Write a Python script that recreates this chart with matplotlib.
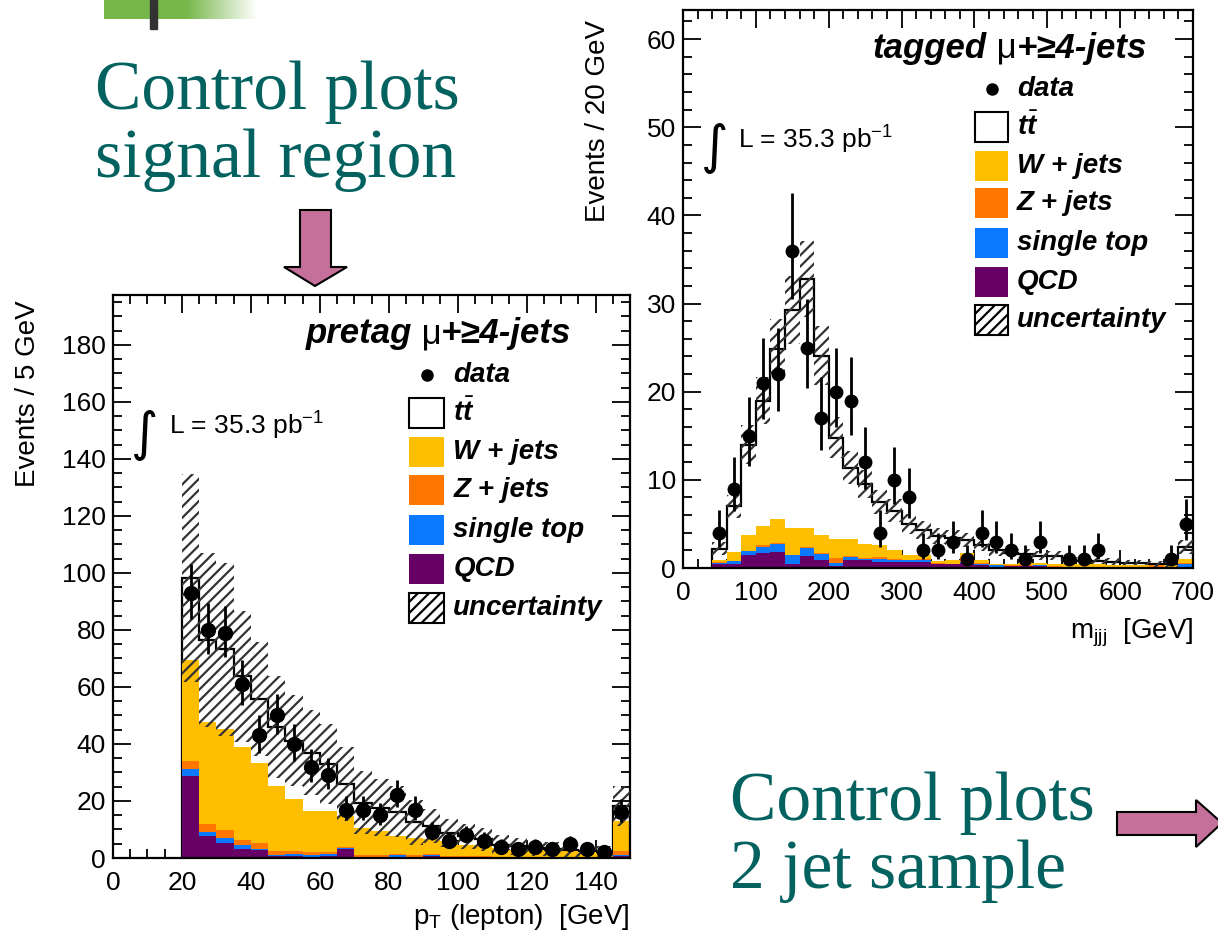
import numpy as np
import matplotlib
matplotlib.use("Agg")
import matplotlib.pyplot as plt
from matplotlib.patches import Rectangle, Polygon
from matplotlib.ticker import MultipleLocator

plt.rcParams['font.family'] = ['Liberation Sans', 'DejaVu Sans']
plt.rcParams['mathtext.fontset'] = 'custom'
plt.rcParams['mathtext.rm'] = 'Liberation Sans'
plt.rcParams['mathtext.it'] = 'Liberation Sans:italic:bold'
plt.rcParams['mathtext.bf'] = 'Liberation Sans:bold'
plt.rcParams['hatch.linewidth'] = 1.6
plt.rcParams['hatch.color'] = '#333333'

# ---- pretag: pT(lepton), 5 GeV bins 20-150 (last bin holds overflow)
pt_edges = np.arange(20, 151, 5)
pt_data = [93, 80, 79, 61, 43, 50, 40, 32, 29, 17, 17, 15, 22, 17, 9, 6, 8, 6, 4, 3, 4, 3, 5, 3, 2, 16]
pt_qcd = [28.8, 7.6, 5.3, 3.3, 2.9, 0.6, 0.6, 0.4, 0.8, 3.3, 0.3, 0.2, 0.2, 0.3, 0.8, 0.2, 0.2, 0.1, 0.1, 0.1, 0.1, 0.1, 0.1, 0.1, 0.1, 0.6]
pt_stop = [2.4, 1.6, 1.8, 1.4, 0.4, 0.6, 0.8, 0.6, 0.6, 0.2, 0.2, 0.2, 0.8, 0.2, 0.2, 0.2, 0.2, 0.2, 0.1, 0.1, 0.1, 0.1, 0.1, 0.1, 0.1, 0.6]
pt_zjets = [2.9, 2.8, 2.7, 1.5, 2.0, 1.2, 1.0, 1.1, 0.7, 0.3, 0.5, 0.5, 0.3, 0.4, 0.4, 0.4, 0.3, 0.3, 0.2, 0.2, 0.2, 0.1, 0.1, 0.1, 0.1, 1.4]
pt_wjets = [35.3, 35.6, 35.5, 32.8, 28.2, 22.9, 18.4, 14.4, 14.4, 10.9, 9.6, 8.5, 6.3, 6.1, 5.1, 5.1, 4.0, 3.5, 3.1, 2.5, 2.5, 2.3, 2.1, 1.8, 1.5, 10.3]
pt_ttbar = [28.8, 28.9, 27.9, 24.8, 22.4, 20.6, 20.4, 20.5, 16.5, 11.2, 8.8, 8.2, 8.7, 5.5, 4.7, 2.9, 2.9, 2.4, 1.2, 1.2, 0.6, 0.6, 0.4, 0.4, 0.4, 5.3]
pt_unc = [36.5, 30.5, 30.3, 23, 20, 18, 16, 15, 14, 13, 11, 10, 9, 8, 6, 5, 4.5, 4, 3.5, 3, 2.8, 2.5, 2.3, 2.1, 2.0, 7]

# ---- tagged: m_jjj, 20 GeV bins 40-700 (last bin holds overflow)
m_edges = np.arange(40, 701, 20)
m_data = [4, 9, 15, 21, 22, 36, 25, 17, 20, 19, 12, 4, 10, 8, 2, 2, 3, 1, 4, 3, 2, 1, 3, 0, 1, 1, 2, 0, 0, 0, 0, 1, 5]
m_qcd = [0.4, 0.5, 1.43, 1.7, 1.8, 0.5, 1.36, 0.94, 0.2, 0.94, 0.9, 0.7, 0.7, 0.7, 0.7, 0.4, 0.4, 0.6, 0.3, 0.15, 0.2, 0.2, 0.2, 0.1, 0.05, 0.05, 0.05, 0.05, 0.05, 0.05, 0.05, 0.05, 0.15]
m_stop = [0.2, 0.25, 0.47, 0.7, 0.95, 0.93, 0.9, 0.66, 0.4, 0.3, 0.15, 0.3, 0.2, 0.2, 0.25, 0.1, 0.05, 0.1, 0.2, 0.15, 0.05, 0.05, 0.1, 0.05, 0.05, 0.05, 0.05, 0.05, 0.05, 0.05, 0.05, 0.05, 0.3]
m_zjets = [0.05, 0.05, 0.05, 0.2, 0.1, 0.05, 0.1, 0.05, 0.5, 0.1, 0.1, 0.3, 0.1, 0.05, 0.05, 0.05, 0.05, 0.5, 0.05, 0.05, 0.05, 0.05, 0.05, 0.05, 0.05, 0.05, 0.05, 0.05, 0.05, 0.05, 0.25, 0.05, 0.1]
m_wjets = [0.3, 1.0, 1.8, 2.2, 2.75, 3.1, 2.2, 2.15, 2.2, 1.95, 1.6, 1.3, 1.0, 0.55, 0.5, 0.25, 0.4, 0.5, 0.35, 0.15, 0.15, 0.3, 0.25, 0.3, 0.25, 0.25, 0.25, 0.2, 0.2, 0.2, 0.0, 0.15, 0.45]
m_ttbar = [1.25, 5.2, 10.25, 14.2, 19.3, 24.7, 28.2, 20.3, 11.5, 8.1, 6.75, 4.9, 4.5, 3.5, 2.8, 2.8, 2.5, 1.5, 1.7, 1.5, 1.25, 1.0, 0.8, 0.9, 0.5, 0.4, 0.4, 0.35, 0.25, 0.25, 0.1, 0.1, 1.4]
m_unc = [0.7, 1.3, 2.2, 2.7, 3.4, 3.9, 4.3, 3.3, 2.3, 1.9, 1.6, 1.4, 1.3, 1.1, 1.0, 0.9, 0.9, 0.8, 0.7, 0.6, 0.5, 0.5, 0.5, 0.5, 0.4, 0.4, 0.4, 0.4, 0.3, 0.3, 0.3, 0.3, 0.8]

legend_labels = ['data', r'$t\bar{t}$', 'W + jets', 'Z + jets', 'single top', 'QCD', 'uncertainty']
stack_colors = ['#660066', '#0A78FF', '#FF7700', '#FFBF00']   # QCD, single top, Z+jets, W+jets
teal = '#03625F'
pink = '#C5709A'

W, H = 1218, 942
fig = plt.figure(figsize=(W / 100, H / 100), dpi=100)


def box(x0, y0, x1, y1):
    return [x0 / W, 1 - y1 / H, (x1 - x0) / W, (y1 - y0) / H]


def draw_panel(ax, edges, comps, ttbar, unc, data, ms):
    base = np.zeros(len(ttbar))
    for vals in comps:
        base = base + np.array(vals)
    total = base + np.array(ttbar)
    # ttbar outline first, then the stack is filled on top of it
    ax.stairs(total, edges, baseline=0, fill=False, color='black', lw=1.6, zorder=1)
    base = np.zeros(len(ttbar))
    for vals, col in zip(comps, stack_colors):
        top = base + np.array(vals)
        ax.stairs(top, edges, baseline=base, fill=True, color=col, lw=0, zorder=2)
        base = top
    ax.stairs(total + np.array(unc), edges, baseline=np.clip(total - np.array(unc), 0, None), fill=True,
              facecolor='none', edgecolor='#333333', hatch='///', lw=0, zorder=3)
    n = np.array(data, dtype=float)
    centers = 0.5 * (edges[:-1] + edges[1:])
    keep = n > 0
    s = np.sqrt(n[keep] + 0.25)
    ax.errorbar(centers[keep], n[keep], yerr=[s - 0.5, s + 0.5], fmt='o', color='black',
                ms=ms, elinewidth=2.0, capsize=0, zorder=5)


def style_axes(ax, xmaj, xmin, ymaj, ymin):
    ax.xaxis.set_major_locator(MultipleLocator(xmaj))
    ax.xaxis.set_minor_locator(MultipleLocator(xmin))
    ax.yaxis.set_major_locator(MultipleLocator(ymaj))
    ax.yaxis.set_minor_locator(MultipleLocator(ymin))
    ax.tick_params(which='both', direction='in', top=True, right=True, width=1.3, labelsize=19)
    ax.tick_params(which='major', length=13)
    ax.tick_params(which='minor', length=6.5)
    ax.tick_params(axis='x', pad=9)
    ax.tick_params(axis='y', pad=5)
    for sp in ax.spines.values():
        sp.set_linewidth(1.6)


def draw_legend(ax, title_first, bw, bh):
    rows = [0.858, 0.790, 0.721, 0.654, 0.583, 0.513, 0.444]
    xb = 0.573
    for i, (lab, y) in enumerate(zip(legend_labels, rows)):
        if i == 0:
            ax.plot(xb + bw / 2, y, 'o', color='black', ms=8, transform=ax.transAxes)
        elif i == 1:
            ax.add_patch(Rectangle((xb, y - bh / 2), bw, bh, transform=ax.transAxes,
                                   facecolor='white', edgecolor='black', lw=1.5))
        elif i == 6:
            ax.add_patch(Rectangle((xb, y - bh / 2), bw, bh, transform=ax.transAxes,
                                   facecolor='none', edgecolor='black', hatch='///', lw=1.5))
        else:
            ax.add_patch(Rectangle((xb, y - bh / 2), bw, bh, transform=ax.transAxes,
                                   facecolor=stack_colors[5 - i], edgecolor='none'))
        ax.text(xb + bw + 0.017, y, lab, transform=ax.transAxes, fontsize=20,
                fontweight='bold', style='italic', va='center', ha='left')
    # title: word  mu+>=4-jets
    t1 = ax.text(0.372, 0.902, title_first, transform=ax.transAxes, fontsize=25,
                 fontweight='bold', style='italic', va='bottom', ha='left')
    t2 = ax.annotate(' \u03bc', xy=(1, 0), xycoords=t1, fontsize=25, va='bottom', ha='left')
    ax.annotate('+\u22654-jets', xy=(1, 0), xycoords=t2, fontsize=25, fontweight='bold',
                style='italic', va='bottom', ha='left')
    # luminosity
    ax.text(0.062, 0.752, '\u222b', transform=ax.transAxes, fontsize=38,
            family='DejaVu Sans', va='center', ha='center')
    ax.text(0.108, 0.767, r'L = 35.3 pb$^{\mathrm{-1}}$', transform=ax.transAxes,
            fontsize=19, va='center', ha='left')


# ---- left panel
ax_l = fig.add_axes(box(113, 295, 630, 858))
draw_panel(ax_l, pt_edges, [pt_qcd, pt_stop, pt_zjets, pt_wjets], pt_ttbar, pt_unc, pt_data, 10)
ax_l.set_xlim(0, 150)
ax_l.set_ylim(0, 197.5)
style_axes(ax_l, 20, 5, 20, 5)
ax_l.set_ylabel('Events / 5 GeV', fontsize=20, loc='top')
ax_l.yaxis.set_label_coords(-0.139, 0.991)
ax_l.set_xlabel(r'p$_{\mathrm{T}}$ (lepton)  [GeV]', fontsize=20, loc='right')
ax_l.xaxis.set_label_coords(1.0, -0.078)
draw_legend(ax_l, 'pretag', 0.068, 0.053)

# ---- right panel
ax_r = fig.add_axes(box(683, 10, 1193, 568))
draw_panel(ax_r, m_edges, [m_qcd, m_stop, m_zjets, m_wjets], m_ttbar, m_unc, m_data, 9)
ax_r.set_xlim(0, 700)
ax_r.set_ylim(0, 63.3)
style_axes(ax_r, 100, 20, 10, 2)
ax_r.set_ylabel('Events / 20 GeV', fontsize=20, loc='top')
ax_r.yaxis.set_label_coords(-0.141, 0.982)
ax_r.set_xlabel(r'm$_{\mathrm{jjj}}$  [GeV]', fontsize=20, loc='right')
ax_r.xaxis.set_label_coords(1.0, -0.088)
draw_legend(ax_r, 'tagged', 0.065, 0.054)

# ---- slide decoration
bg = fig.add_axes([0, 0, 1, 1], zorder=-1)
grad = np.ones((1, 300, 4))
grad[0, :, :3] = matplotlib.colors.to_rgb('#77B74A')
grad[0, :, 3] = np.clip((257 - np.linspace(104, 257, 300)) / (257 - 187), 0, 1)
bg.imshow(grad, extent=(104, 257, 19, 0), aspect='auto', interpolation='bilinear')
bg.add_patch(Rectangle((150, 0), 7, 29, color='#333333'))
bg.text(95, 109, 'Control plots', fontsize=50, family='Liberation Serif', color=teal, va='baseline')
bg.text(95, 177, 'signal region', fontsize=50, family='Liberation Serif', color=teal, va='baseline')
bg.text(730, 820, 'Control plots', fontsize=50, family='Liberation Serif', color=teal, va='baseline')
bg.text(730, 888, '2 jet sample', fontsize=50, family='Liberation Serif', color=teal, va='baseline')
bg.add_patch(Polygon([(300, 210), (331, 210), (331, 267), (347, 267), (315, 286), (284, 267), (300, 267)],
                     closed=True, facecolor=pink, edgecolor='black', lw=1.5))
bg.add_patch(Polygon([(1117, 812), (1196, 812), (1196, 800), (1222, 823), (1196, 847), (1196, 835), (1117, 835)],
                     closed=True, facecolor=pink, edgecolor='black', lw=1.5))
bg.set_xlim(0, W)
bg.set_ylim(H, 0)
bg.axis('off')

fig.savefig('out.png', dpi=100)
